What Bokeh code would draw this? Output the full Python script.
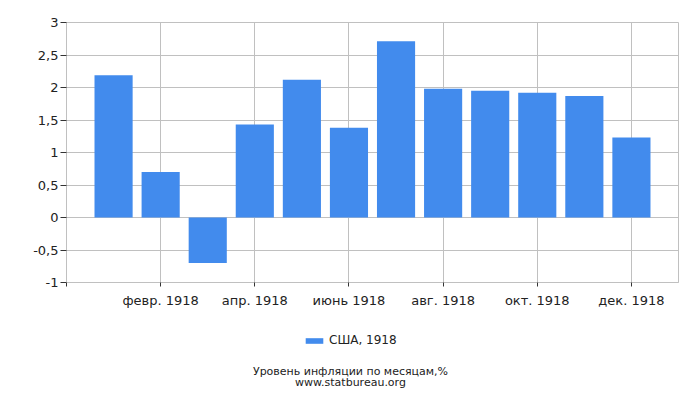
from bokeh.plotting import figure
from bokeh.layouts import column
from bokeh.models import (Range1d, FixedTicker, Legend, LegendItem, Label,
                          ColumnDataSource)
from bokeh.embed import file_html
from bokeh.resources import INLINE

months = [1, 2, 3, 4, 5, 6, 7, 8, 9, 10, 11, 12]
inflation = [2.19, 0.70, -0.70, 1.43, 2.12, 1.38, 2.71, 1.98, 1.95, 1.92, 1.87, 1.23]
tick_pos = [0, 2, 4, 6, 8, 10, 12]
tick_labels = ["", "февр. 1918", "апр. 1918", "июнь 1918", "авг. 1918", "окт. 1918", "дек. 1918"]
y_ticks = [-1, -0.5, 0, 0.5, 1, 1.5, 2, 2.5, 3]
y_labels = ["-1", "-0,5", "0", "0,5", "1", "1,5", "2", "2,5", "3"]
series_name = "США, 1918"
title_1 = "Уровень инфляции по месяцам,%"
title_2 = "www.statbureau.org"

FONT = "DejaVu Sans"
BAR = "#428bed"
GRID = "#c0c0c0"
TEXT = "#222222"

p = figure(width=700, height=310, output_backend="svg", toolbar_location=None,
           x_range=Range1d(0, 13), y_range=Range1d(-1, 3),
           min_border_left=66, min_border_right=22, min_border_top=22,
           min_border_bottom=27)

src = ColumnDataSource(dict(x=months, top=inflation))
p.vbar(x="x", top="top", bottom=0, width=0.81, source=src,
       fill_color=BAR, line_color=None)

p.xaxis.ticker = FixedTicker(ticks=tick_pos)
p.xaxis.major_label_overrides = dict(zip(tick_pos, tick_labels))
p.yaxis.ticker = FixedTicker(ticks=y_ticks)
p.yaxis.major_label_overrides = dict(zip(y_ticks, y_labels))

for ax in (p.xaxis, p.yaxis):
    ax.axis_line_color = GRID
    ax.major_tick_line_color = "#333333"
    ax.minor_tick_line_color = None
    ax.major_tick_in = 0
    ax.major_label_text_font = FONT
    ax.major_label_text_font_size = "13px"
    ax.major_label_text_color = TEXT
p.xaxis.major_tick_out = 4
p.yaxis.major_tick_out = 6
p.xaxis.major_label_standoff = 6
p.yaxis.major_label_standoff = 2

p.xgrid.grid_line_color = GRID
p.ygrid.grid_line_color = GRID
p.outline_line_color = GRID

# legend + captions live in a strip under the chart
# (the column aligns its frame with the chart's, so x is relative to x=66)
foot = figure(width=700, height=90, output_backend="svg", toolbar_location=None,
              x_range=Range1d(0, 1), y_range=Range1d(0, 1),
              x_axis_type=None, y_axis_type=None,
              min_border=0)
foot.outline_line_color = None
swatch = foot.vbar(x="x", top="top", width=1, source=src,
                   fill_color=BAR, line_color=None, visible=False)

legend = Legend(items=[LegendItem(label=series_name, renderers=[swatch])],
                location=(237, 53), orientation="horizontal",
                glyph_width=22, glyph_height=7, label_standoff=4,
                label_height=14, padding=0, margin=0, border_line_color=None,
                background_fill_alpha=0, inactive_fill_alpha=0,
                label_text_font=FONT, label_text_font_size="12px",
                label_text_color=TEXT)
foot.add_layout(legend)

for txt, yy in ((title_1, 29), (title_2, 18)):
    foot.add_layout(Label(x=284, y=yy, x_units="screen", y_units="screen",
                          text=txt, text_align="center", text_baseline="middle",
                          text_font=FONT, text_font_size="11px",
                          text_color=TEXT))

open("out.html", "w").write(file_html(column(p, foot), INLINE))
